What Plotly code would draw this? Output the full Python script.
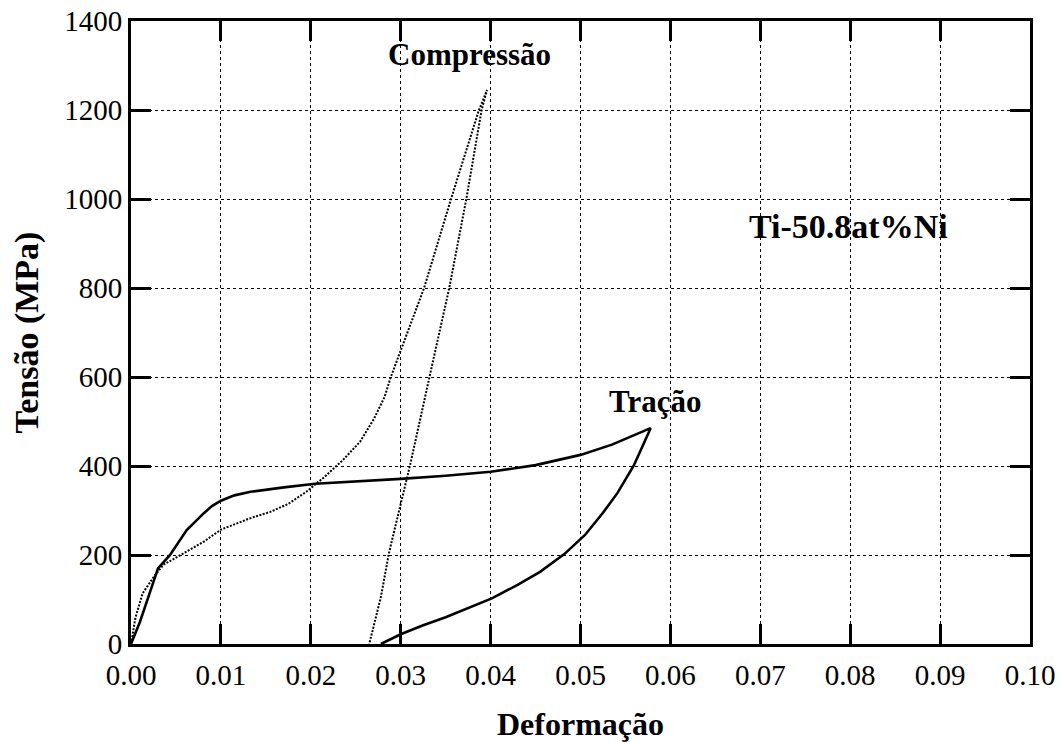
import plotly.graph_objects as go

# Tração (tension) curve: loading then unloading
tracao_x = [0.0, 0.001, 0.002, 0.003, 0.0043, 0.0062, 0.0081, 0.009, 0.010, 0.0115,
            0.0133, 0.015, 0.017, 0.0205, 0.025, 0.030, 0.035, 0.040, 0.045, 0.050,
            0.0535, 0.0578,
            0.0568, 0.0559, 0.0541, 0.0525, 0.0505, 0.0482, 0.0455, 0.043, 0.0402,
            0.0375, 0.035, 0.0325, 0.030, 0.0278]
tracao_y = [0, 50, 110, 170, 199, 256, 294, 310, 322, 334,
            342, 347, 352, 360, 365, 371, 378, 387, 402, 425,
            448, 485,
            440, 400, 339, 295, 245, 202, 162, 133, 103,
            80, 60, 42, 22, 0]

# Compressão curve: loading then unloading
comp_x = [0.0, 0.0005, 0.0013, 0.0025, 0.0036, 0.0055, 0.0081, 0.010, 0.0133, 0.0155,
          0.0175, 0.0195, 0.0215, 0.0236, 0.0255, 0.027, 0.0282, 0.0289, 0.0301,
          0.0326, 0.0356, 0.0387, 0.0396,
          0.0390, 0.0373, 0.0354, 0.0332, 0.0311, 0.0287, 0.0278, 0.0265]
comp_y = [0, 60, 114, 150, 178, 200, 230, 257, 283, 297,
          315, 342, 375, 414, 455, 505, 555, 600, 665,
          800, 1000, 1200, 1245,
          1200, 1000, 800, 600, 407, 205, 106, 0]

x_ticks = [0.00, 0.01, 0.02, 0.03, 0.04, 0.05, 0.06, 0.07, 0.08, 0.09, 0.10]
y_ticks = [0, 200, 400, 600, 800, 1000, 1200, 1400]

SERIF = "Liberation Serif"

fig = go.Figure()
fig.add_trace(go.Scatter(x=comp_x, y=comp_y, mode="lines", name="Compressão",
                         line=dict(color="black", width=2, dash="2px,1.5px"),
                         showlegend=False))
fig.add_trace(go.Scatter(x=tracao_x, y=tracao_y, mode="lines", name="Tração",
                         line=dict(color="black", width=2.6),
                         showlegend=False))

annotations = [
    dict(x=0.0377, y=1325, text="<b>Compressão</b>", size=31),
    dict(x=0.0583, y=545, text="<b>Tração</b>", size=31),
    dict(x=0.0798, y=938, text="<b>Ti-50.8at%Ni</b>", size=34),
]
for a in annotations:
    fig.add_annotation(x=a["x"], y=a["y"], text=a["text"], showarrow=False,
                       xref="x", yref="y",
                       font=dict(family=SERIF, size=a["size"], color="black"))

axis_common = dict(
    showline=True, linewidth=3, linecolor="black", mirror="ticks",
    ticks="inside", ticklen=20, tickwidth=3, tickcolor="black",
    showgrid=True, gridcolor="black", gridwidth=1, griddash="dot",
    zeroline=False, automargin=False,
    tickfont=dict(family=SERIF, size=29, color="black"),
)

fig.update_xaxes(range=[0, 0.10], tickvals=x_ticks,
                 ticktext=[f"{v:.2f}" for v in x_ticks],
                 ticklabelstandoff=3,
                 title=dict(text="<b>Deformação</b>", standoff=24,
                            font=dict(family=SERIF, size=32, color="black")),
                 **axis_common)
fig.update_yaxes(range=[0, 1400], tickvals=y_ticks,
                 ticktext=[str(v) for v in y_ticks],
                 title=dict(text="<b>Tensão (MPa)</b>", standoff=16,
                            font=dict(family=SERIF, size=34, color="black")),
                 **axis_common)

fig.update_layout(
    width=1061, height=742,
    margin=dict(l=131, r=31, t=21, b=98),
    paper_bgcolor="white", plot_bgcolor="white",
)

fig.write_html("out.html")
